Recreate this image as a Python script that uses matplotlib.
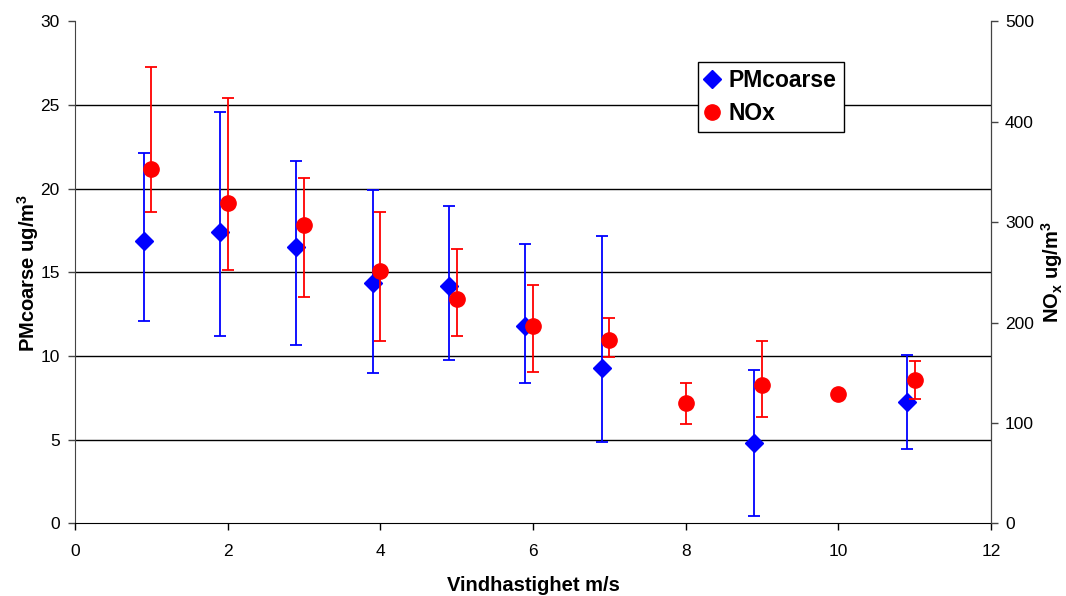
import matplotlib
matplotlib.use("Agg")
import matplotlib.pyplot as plt
from matplotlib.lines import Line2D
import numpy as np

plt.rcParams['font.family'] = ['Liberation Sans', 'DejaVu Sans']
plt.rcParams['mathtext.fontset'] = 'custom'
plt.rcParams['mathtext.rm'] = 'Liberation Sans:bold'
plt.rcParams['mathtext.it'] = 'Liberation Sans:bold'
plt.rcParams['mathtext.bf'] = 'Liberation Sans:bold'

# PMcoarse (left axis)
pm_x = [0.9, 1.9, 2.9, 3.9, 4.9, 5.9, 6.9, 8.9, 10.9]
pm_y = [16.87, 17.39, 16.52, 14.36, 14.18, 11.77, 9.28, 4.78, 7.23]
pm_hi = [22.15, 24.60, 21.67, 19.94, 18.97, 16.69, 17.19, 9.16, 10.08]
pm_lo = [12.09, 11.21, 10.68, 8.97, 9.76, 8.41, 4.84, 0.44, 4.44]

# NOx (right axis)
nox_x = [1, 2, 3, 4, 5, 6, 7, 8, 9, 10, 11]
nox_y = [353.0, 318.8, 296.9, 251.6, 223.8, 196.3, 182.3, 119.5, 137.8, 129.1, 143.1]
nox_hi = [454.3, 423.7, 344.3, 309.8, 273.6, 237.7, 204.8, 139.8, 181.3, 129.1, 161.7]
nox_lo = [310.1, 252.6, 225.4, 181.3, 186.9, 150.7, 165.7, 98.9, 105.9, 129.1, 124.1]

x_ticks = [0, 2, 4, 6, 8, 10, 12]
left_ticks = [0, 5, 10, 15, 20, 25, 30]
right_ticks = [0, 100, 200, 300, 400, 500]

W, H = 1066, 596
fig = plt.figure(figsize=(W / 100, H / 100), dpi=100)
ax = fig.add_axes([75 / W, 1 - 523.3 / H, (991 - 75) / W, (523.3 - 21.4) / H])
ax2 = ax.twinx()

ax.set_ylim(0, 30)
ax.set_xlim(0, 12)
for v in left_ticks[1:-1]:
    ax.axhline(v, color='black', lw=1.0, zorder=0.5)

pm_y_a = np.array(pm_y)
pm_err = [pm_y_a - np.array(pm_lo), np.array(pm_hi) - pm_y_a]
ax.errorbar(pm_x, pm_y, yerr=pm_err, fmt='D', color='#0000FF', ms=9,
            ecolor='#0000FF', elinewidth=1.3, capsize=4, capthick=1.3,
            zorder=3, clip_on=False)

nox_y_a = np.array(nox_y)
nox_err = [nox_y_a - np.array(nox_lo), np.array(nox_hi) - nox_y_a]
ax2.set_ylim(0, 500)
ax2.errorbar(nox_x, nox_y, yerr=nox_err, fmt='o', color='#FF0000', ms=11,
             ecolor='#FF0000', elinewidth=1.3, capsize=4, capthick=1.3,
             zorder=3, clip_on=False)

ax.set_xticks(x_ticks)
ax.set_yticks(left_ticks)
ax2.set_yticks(right_ticks)

for a in (ax, ax2):
    a.spines['top'].set_visible(False)
ax.spines['left'].set_color('#444444')
ax.spines['bottom'].set_color('black')
ax2.spines['right'].set_color('#444444')
ax2.spines['left'].set_visible(False)
ax2.spines['bottom'].set_visible(False)

ax.tick_params(axis='both', labelsize=12.5, length=5, width=1, color='#444444', pad=6)
ax.tick_params(axis='x', pad=10, color='black')
ax2.tick_params(axis='y', labelsize=12.5, length=5, width=1, color='#444444', pad=5)

ax.set_xlabel('Vindhastighet m/s', fontsize=14.5, fontweight='bold', labelpad=12)
ax.set_ylabel('PMcoarse ug/m$^3$', fontsize=14.5, fontweight='bold')
ax.yaxis.set_label_coords((41 - 75) / 916, 0.5)
ax2.set_ylabel('NO$_x$ ug/m$^3$', fontsize=14.5, fontweight='bold', labelpad=4)

handles = [
    Line2D([], [], marker='D', color='#0000FF', ls='none', ms=9),
    Line2D([], [], marker='o', color='#FF0000', ls='none', ms=11),
]
leg = ax.legend(handles, ['PMcoarse', 'NOx'], loc='upper left',
                bbox_to_anchor=((698 - 75) / 916, (523.3 - 62) / 501.9),
                borderaxespad=0, fancybox=False, framealpha=1,
                edgecolor='black', prop={'size': 16.5, 'weight': 'bold'},
                handlelength=0.6, handletextpad=0.45, borderpad=0.3,
                labelspacing=0.45)
leg.get_frame().set_linewidth(1.0)
leg.set_zorder(10)

fig.savefig('out.png', dpi=100)
